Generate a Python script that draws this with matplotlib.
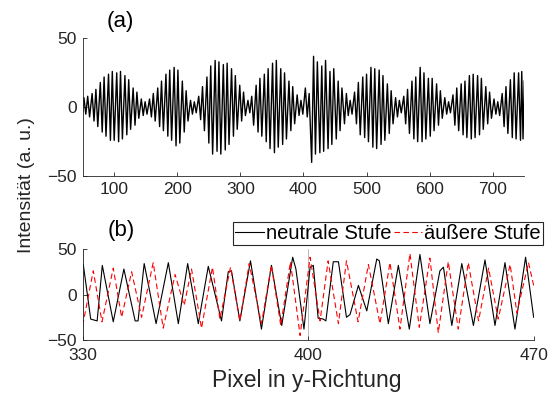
import numpy as np
import matplotlib

matplotlib.use("Agg")
import matplotlib.pyplot as plt

plt.rcParams["font.family"] = ["Liberation Sans", "DejaVu Sans"]

INK = "#262626"

top_peak_x = [52, 58, 65, 71, 78, 84, 91, 97, 104, 110, 117, 123, 130, 136, 143, 149,
              156, 162, 169, 175, 182, 188, 195, 201, 208, 214, 221, 227, 234,
              240, 247, 253, 260, 266, 273, 279, 286, 292, 299, 305, 312,
              318, 325, 331, 338, 344, 351, 357, 364, 370, 377, 383, 390, 396,
              403, 409, 416, 422, 429, 435, 442, 448, 455, 461, 468, 474,
              481, 487, 494, 500, 507, 513, 520, 526, 533, 539, 546, 552,
              559, 565, 572, 578, 585, 591, 598, 604, 611, 617, 624, 630,
              637, 643, 650, 656, 663, 669, 676, 682, 689, 695, 702, 708,
              715, 721, 728, 734, 741, 746, 750]
top_peak_y = [7, 8, 10, 13, 18, 22, 24, 26, 25, 26, 23, 20, 14, 11, 6, 4,
              6, 10, 14, 19, 24, 27, 29, 27, 19, 12, 5, 4, 8,
              15, 22, 30, 34, 33, 31, 32, 28, 23, 16, 11, 5,
              8, 16, 21, 24, 28, 32, 34, 28, 25, 19, 15, 9, 5,
              14, 10, 37, 33, 30, 34, 26, 28, 19, 14, 10, 5,
              11, 18, 22, 24, 29, 28, 27, 23, 17, 12, 7, 5,
              8, 13, 19, 22, 29, 25, 21, 21, 17, 12, 7, 4,
              9, 14, 17, 19, 23, 24, 23, 21, 15, 11, 6, 4,
              10, 15, 20, 25, 25, 26, 19]
top_trough_x = [50, 55, 61, 68, 74, 81, 87, 94, 100, 107, 113, 120, 126, 133, 139, 146, 152,
                159, 165, 172, 178, 185, 191, 198, 204, 211, 217, 224, 230, 237,
                243, 250, 256, 263, 269, 276, 282, 289, 295, 302, 308, 315,
                321, 328, 334, 341, 347, 354, 360, 367, 373, 380, 386, 393, 399,
                406, 413, 419, 426, 432, 439, 445, 452, 458, 465, 471, 477,
                484, 490, 497, 503, 510, 516, 523, 529, 536, 542, 549, 555,
                562, 568, 575, 581, 588, 594, 601, 607, 614, 620, 627, 633,
                640, 646, 653, 659, 666, 672, 679, 685, 692, 698, 705, 711,
                718, 724, 731, 737, 744, 748]
top_trough_y = [-4, -5, -7, -10, -14, -18, -21, -24, -24, -25, -23, -20, -16, -13, -8, -6, -5,
                -7, -10, -14, -17, -21, -24, -28, -26, -18, -10, -5, -4, -9,
                -17, -26, -34, -32, -34, -31, -27, -21, -16, -10, -6, -4,
                -13, -18, -21, -25, -30, -33, -29, -27, -23, -17, -12, -6, -5,
                -7, -40, -34, -33, -32, -30, -27, -23, -17, -12, -6, -5,
                -12, -20, -22, -25, -29, -30, -27, -24, -19, -12, -7, -4,
                -12, -19, -23, -25, -25, -23, -21, -17, -13, -8, -5, -4,
                -13, -17, -20, -22, -23, -22, -20, -16, -12, -8, -5, -6,
                -14, -19, -22, -23, -24, -23]

# (b) zoom 330..470, extrema of both curves
neutral_x = [330.2, 332.5, 334.5, 336.1, 339.5, 342.8, 346.3, 347.2, 349.1, 352.8,
             356.6, 359.7, 362.6, 365.9, 369.0, 373.1, 375.2, 376.2, 378.8, 382.1,
             385.5, 388.6, 391.8, 395.2, 396.2, 398.7, 400.6, 401.6, 403.1, 404.7,
             405.5, 407.8, 409.4, 411.9, 413.0, 415.6, 418.2, 421.3, 422.1, 424.9,
             428.0, 431.4, 434.7, 437.8, 440.9, 442.0, 444.6, 447.7, 451.3, 454.9,
             458.0, 461.1, 464.2, 467.5, 470.0]
neutral_y = [33, -27, -29, 32, -30, 28, -29, -29, 34, -32,
             35, -32, 34, -32, 31, -29, 25, 26, -29, 37,
             -38, 32, -34, 41, 28, -38, 30, 32, -26, -27,
             -29, 36, 36, -25, -22, 10, -18, 39, 37, -32,
             32, -38, 44, -32, 26, 30, -34, 34, -34, 38,
             -34, 35, -38, 41, -25]
outer_x = [330.0, 333.3, 336.0, 339.5, 342.1, 345.2, 348.3, 351.9, 355.0, 358.7,
           361.5, 363.8, 366.9, 370.3, 372.6, 375.9, 378.8, 381.7, 385.5, 388.6,
           391.5, 394.5, 397.5, 400.6, 403.7, 406.2, 409.4, 411.9, 415.5, 418.7,
           422.3, 425.4, 428.5, 431.6, 434.5, 437.8, 440.4, 443.5, 446.6, 449.7,
           452.9, 456.0, 459.0, 462.7, 464.8, 468.4, 470.0]
outer_y = [-34, 26, -30, 29, -25, 25, -25, 35, -37, 22,
           -12, 28, -37, 30, -27, 30, -29, 34, -32, 32,
           -34, 36, -45, 41, -29, 37, -32, 37, -30, 33,
           -32, 35, -38, 45, -36, 40, -42, 36, -38, 35,
           -29, 29, -27, 33, -20, 35, 10]

fig = plt.figure(figsize=(5.51, 3.94), dpi=100)
ax_a = fig.add_axes([0.150, 0.553, 0.8015, 0.3495])
ax_b = fig.add_axes([0.150, 0.137, 0.8185, 0.231])

xs = np.array(top_peak_x + top_trough_x, dtype=float)
ys = np.array(top_peak_y + top_trough_y, dtype=float)
order = np.argsort(xs, kind="stable")
ax_a.plot(xs[order], ys[order], color="black", linewidth=1.0)
ax_a.set_xlim(50, 750)
ax_a.set_ylim(-50, 50)
ax_a.set_xticks([100, 200, 300, 400, 500, 600, 700])
ax_a.set_yticks([-50, 0, 50])
ax_a.text(110, 62, "(a)", fontsize=16, color="black", ha="center", va="center")

ax_b.plot(neutral_x, neutral_y, color="black", linewidth=0.8, label="neutrale Stufe")
ax_b.plot(outer_x, outer_y, color="#ff0000", linewidth=0.8, linestyle=(0, (5, 3)),
          label="äußere Stufe")
ax_b.set_xlim(330, 470)
ax_b.set_ylim(-50, 50)
ax_b.set_xticks([330, 400, 470])
ax_b.set_yticks([-50, 0, 50])
ax_b.grid(axis="x", color="#b0b0b0", linewidth=0.6)
ax_b.set_axisbelow(True)
ax_b.text(342, 70, "(b)", fontsize=16, color="black", ha="center", va="center")

for ax in (ax_a, ax_b):
    for spine in ("top", "right"):
        ax.spines[spine].set_visible(False)
    for spine in ("left", "bottom"):
        ax.spines[spine].set_color(INK)
        ax.spines[spine].set_linewidth(0.6)
    ax.tick_params(direction="in", length=3, width=0.6, colors=INK, labelsize=12.5,
                   labelcolor=INK)
    ax.tick_params(axis="y", pad=4)
ax_a.tick_params(axis="x", pad=4)
ax_b.tick_params(axis="x", pad=6)

leg = ax_b.legend(loc="lower right", bbox_to_anchor=(0.9855, 0.378),
                  bbox_transform=fig.transFigure, ncol=2, fontsize=14.5,
                  frameon=True, fancybox=False, framealpha=1, edgecolor=INK,
                  handlelength=1.4, handletextpad=0.1, columnspacing=0.15,
                  borderpad=0.1, borderaxespad=0)
leg.get_frame().set_linewidth(0.8)

fig.text(0.049, 0.53, "Intensität (a. u.)", rotation=90, fontsize=14,
         color=INK, ha="center", va="center")
fig.text(0.557, 0.033, "Pixel in y-Richtung", fontsize=16.5, color=INK,
         ha="center", va="center")

fig.savefig("out.png", dpi=100, facecolor="white")
